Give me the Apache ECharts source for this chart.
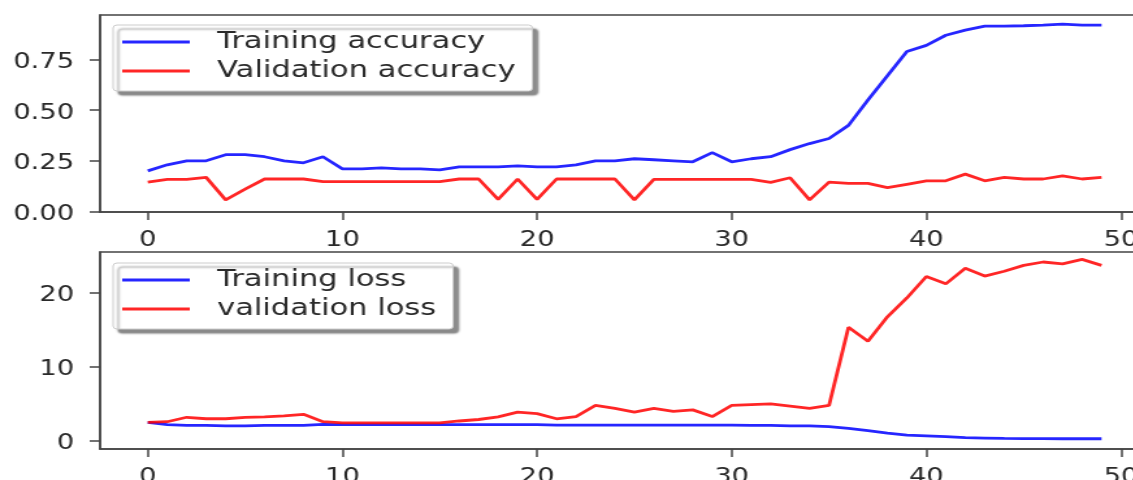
<!DOCTYPE html>
<html>
<head>
<meta charset="utf-8">
<script src="https://cdn.jsdelivr.net/npm/echarts@6/dist/echarts.min.js"></script>
<style>
html,body{margin:0;padding:0;background:#fff;overflow:hidden;width:1133px;height:480px;}
#chart{width:900px;height:480px;transform:scaleX(1.3);transform-origin:0 0;filter:blur(0.35px);}
</style>
</head>
<body>
<div id="chart"></div>
<script>
const epochs = Array.from({length:50},(_,i)=>i);
const xTicks = [0,10,20,30,40,50];
const accTicks = [0,0.25,0.5,0.75];
const lossTicks = [0,10,20];
const trainAcc = [0.20,0.23,0.25,0.25,0.28,0.28,0.27,0.25,0.24,0.27,
  0.21,0.21,0.215,0.21,0.21,0.205,0.22,0.22,0.22,0.225,
  0.22,0.22,0.23,0.25,0.25,0.26,0.255,0.25,0.245,0.29,
  0.245,0.26,0.27,0.305,0.335,0.36,0.425,0.55,0.67,0.79,
  0.82,0.87,0.895,0.915,0.915,0.917,0.92,0.925,0.92,0.92];
const valAcc = [0.145,0.158,0.158,0.168,0.057,0.11,0.16,0.16,0.16,0.147,
  0.147,0.147,0.147,0.147,0.147,0.147,0.16,0.16,0.059,0.16,
  0.059,0.16,0.16,0.16,0.16,0.057,0.158,0.158,0.158,0.158,
  0.158,0.158,0.143,0.166,0.057,0.145,0.138,0.138,0.117,0.134,
  0.151,0.151,0.184,0.151,0.168,0.16,0.16,0.176,0.16,0.168];
const trainLoss = [2.5,2.2,2.1,2.1,2.05,2.05,2.1,2.1,2.1,2.25,
  2.2,2.2,2.2,2.2,2.2,2.2,2.2,2.2,2.2,2.2,
  2.2,2.15,2.15,2.15,2.15,2.15,2.15,2.15,2.15,2.15,
  2.15,2.1,2.1,2.05,2.05,1.95,1.7,1.4,1.05,0.8,
  0.7,0.6,0.45,0.4,0.35,0.33,0.32,0.3,0.3,0.3];
const valLoss = [2.5,2.6,3.2,3.0,3.0,3.2,3.25,3.4,3.6,2.6,
  2.45,2.45,2.45,2.45,2.45,2.45,2.7,2.9,3.25,3.9,
  3.7,3.0,3.3,4.8,4.4,3.9,4.4,4.0,4.2,3.3,
  4.8,4.9,5.0,4.7,4.4,4.8,15.35,13.45,16.75,19.3,
  22.2,21.2,23.3,22.25,22.9,23.7,24.15,23.9,24.5,23.7];
const seriesNames = ['Training accuracy','Validation accuracy','Training loss','validation loss'];

const FONT = 'DejaVu Sans';
const AX = '#444';
const TXT = '#2a2a2a';
const BLUE = 'rgba(0,0,255,0.85)';
const RED = 'rgba(255,0,0,0.85)';

function pairs(arr){ return arr.map((v,i)=>[epochs[i], v]); }

function xAxis(gi){
  return {
    type:'value', gridIndex:gi, min:-2.45, max:51.45,
    splitLine:{show:false},
    axisLine:{show:true, onZero:false, lineStyle:{color:AX, width:1.5}},
    axisTick:{show:true, length:8, lineStyle:{color:AX, width:1.5}, customValues:xTicks},
    axisLabel:{show:true, margin:18, fontFamily:FONT, fontSize:21, color:TXT, customValues:xTicks, formatter:v=>String(v)}
  };
}
function yAxis(gi, min, max, ticks, fmt){
  return {
    type:'value', gridIndex:gi, min:min, max:max,
    splitLine:{show:false},
    axisLine:{show:true, onZero:false, lineStyle:{color:AX, width:1.5}},
    axisTick:{show:true, length:8, lineStyle:{color:AX, width:1.5}, customValues:ticks},
    axisLabel:{show:true, margin:20, customValues:ticks,
      formatter:v=>'{v|'+fmt(v)+'}',
      rich:{v:{fontFamily:FONT, fontSize:21, color:TXT, padding:[6,0,0,0]}}}
  };
}
function legend(names, top){
  return {
    orient:'vertical', left:87, top:top, data:names,
    icon:'rect', itemWidth:52, itemHeight:3, itemGap:5,
    padding:[5,13,8,7],
    backgroundColor:'#fff', borderColor:'#ccc', borderWidth:1, borderRadius:3,
    shadowColor:'rgba(0,0,0,0.45)', shadowOffsetX:4, shadowOffsetY:4, shadowBlur:2,
    textStyle:{fontFamily:FONT, fontSize:23.5, color:TXT, lineHeight:24, padding:[0,0,0,16]},
    selectedMode:false
  };
}
function line(name, data, color, xi){
  return {
    type:'line', name:name, data:pairs(data), xAxisIndex:xi, yAxisIndex:xi,
    showSymbol:false, symbol:'none', smooth:false, animation:false,
    lineStyle:{color:color, width:2.8}, itemStyle:{color:color}
  };
}

const chart = echarts.init(document.getElementById('chart'), null, {renderer:'canvas'});
chart.setOption({
  animation:false,
  backgroundColor:'#fff',
  grid:[
    {left:77, right:16, top:15, height:197, outerBoundsMode:'none', containLabel:false, show:true, borderColor:AX, borderWidth:1.5, backgroundColor:'transparent'},
    {left:77, right:16, top:252, height:197, outerBoundsMode:'none', containLabel:false, show:true, borderColor:AX, borderWidth:1.5, backgroundColor:'transparent'}
  ],
  legend:[legend([seriesNames[0],seriesNames[1]], 25), legend([seriesNames[2],seriesNames[3]], 263)],
  xAxis:[xAxis(0), xAxis(1)],
  yAxis:[yAxis(0,-0.003,0.97,accTicks,v=>v.toFixed(2)), yAxis(1,-1.08,25.5,lossTicks,v=>String(v))],
  series:[
    line(seriesNames[0], trainAcc, BLUE, 0),
    line(seriesNames[1], valAcc, RED, 0),
    line(seriesNames[2], trainLoss, BLUE, 1),
    line(seriesNames[3], valLoss, RED, 1)
  ]
});
</script>
</body>
</html>
